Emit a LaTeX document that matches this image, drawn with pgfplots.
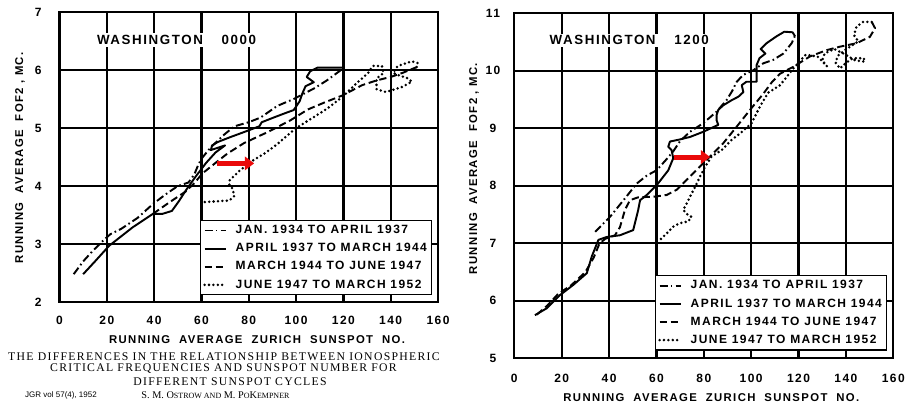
\documentclass[border=0pt]{standalone}
\usepackage{pgfplots}
\pgfplotsset{compat=1.18}
\usepackage{fontspec}
\usetikzlibrary{arrows.meta}
\setmainfont{Liberation Serif}
\newfontfamily\lett{Liberation Sans}[LetterSpace=12]
\newfontfamily\capf{Liberation Serif}[LetterSpace=11]
\newfontfamily\jgr{Liberation Sans}
\definecolor{arrowred}{RGB}{234,10,10}

\newcommand{\lab}{\lett\bfseries\fontsize{8.5}{9}\selectfont}

\pgfplotsset{
  fofpanel/.style={
    scale only axis,
    xmin=0, xmax=160, xtick={0,20,...,160},
    grid=major,
    major grid style={black, line width=1.7pt},
    axis line style={black, line width=1.7pt, line cap=rect},
    major tick length=0pt,
    tick label style={font=\lett\bfseries\fontsize{9}{10}\selectfont},
    /pgf/number format/assume math mode=true,
    yticklabel style={anchor=center, xshift=-16pt},
    clip=false,
    legend cell align=left,
    legend style={anchor=north west, draw=black, line width=0.9pt, fill=white,
      font=\lett\bfseries\fontsize{9}{10}\selectfont,
      inner xsep=2pt, inner ysep=2.3pt, row sep=3.2pt,
      nodes={inner sep=1.3pt},
      /tikz/every odd column/.append style={column sep=5pt}},
    legend image code/.code={\draw[##1] (0pt,0pt) -- (16pt,0pt);},
  },
  dashdot/.style={black, line width=1.45pt, line join=round,
    dash pattern=on 6pt off 2.4pt on 1.2pt off 2.4pt},
  solidline/.style={black, line width=1.45pt, line join=round},
  dashline/.style={black, line width=1.45pt, line join=round,
    dash pattern=on 5.5pt off 2.8pt},
  dotline/.style={black, line width=2.1pt, line cap=round,
    dash pattern=on 0pt off 3.3pt},
  shift/.style={arrowred, line width=3.8pt,
    -{Triangle[length=7pt,width=10pt]}},
}

\begin{document}
\begin{tikzpicture}
\path (0,0) rectangle (684.75pt,-304.5pt);

% ---------------- Washington 0000 ----------------
\begin{axis}[fofpanel,
  at={(44.625pt,-226.5pt)}, anchor=south west,
  width=283.875pt, height=217.5pt,
  ymin=2, ymax=7, ytick={2,...,7},
  xticklabel style={anchor=center, yshift=-13.5pt},
  legend style={at={(0.371,0.283)}},
]
\addplot[dashdot] coordinates {
 (6,2.48) (10,2.70) (14,2.88) (18.5,3.06) (21.5,3.17) (26,3.26) (33,3.45)
 (39.5,3.69) (45,3.86) (50,4.0) (54.5,4.06) (57,4.2) (58.5,4.35) (60,4.47)
 (64,4.67) (70,4.90) (74,5.03) (80,5.1) (85,5.18) (92,5.38) (99,5.5)
 (107.5,5.68) (113,5.82) (119,6.0)};
\addplot[solidline] coordinates {
 (120,6.04) (109,6.04) (106,5.98) (104.5,5.88) (107.5,5.79) (104,5.72)
 (102.7,5.6) (101.5,5.46) (99,5.31) (95,5.25) (90.5,5.18) (85.5,5.1)
 (84.5,5.03) (78,4.93) (72,4.84) (67,4.76) (64.5,4.70) (64,4.62) (67,4.66)
 (70,4.70) (66,4.58) (62,4.40) (57.5,4.16) (53.5,3.93) (50.5,3.74)
 (47.5,3.57) (43.5,3.52) (39.5,3.52) (31,3.29) (21,2.97) (15,2.70) (10,2.48)};
\addplot[dashline] coordinates {
 (39.5,3.52) (46.5,3.72) (53.5,3.91) (57,4.05) (60.5,4.22) (66,4.40)
 (71,4.56) (78,4.74) (88,4.93) (97.5,5.13) (105,5.32) (112,5.44)
 (119.5,5.56) (128,5.74) (134,5.82) (140,5.88) (145,5.95) (151,6.05)};
\addplot[dotline] coordinates {
 (151,6.05) (151.4,6.12) (149,6.15) (143,6.07) (141,5.95) (144,5.9)
 (147,5.86) (149,5.80) (145,5.71) (138,5.62) (134,5.67) (134,5.85)
 (137,5.95) (136.3,6.07) (132.5,6.07) (130.5,5.95) (125,5.75) (120,5.55)
 (113,5.33) (106,5.15) (100,5.0) (92,4.72) (87,4.57) (81,4.42) (76,4.26)
 (72,4.10) (71.8,4.02) (73.2,3.95) (73.9,3.83) (71.8,3.75) (60,3.72)};
\addplot[shift, forget plot] coordinates {(66.7,4.39) (82.3,4.39)};
\legend{JAN.\ 1934 TO APRIL 1937, APRIL 1937 TO MARCH 1944,
        MARCH 1944 TO JUNE 1947, JUNE 1947 TO MARCH 1952}
\node[fill=white, inner sep=1.5pt, font=\lett\bfseries\fontsize{10}{11}\selectfont]
  at (axis cs:49.5,6.52) {WASHINGTON\hspace{14pt}0000};
\node[rotate=90, font=\lab] at (rel axis cs:-0.1044,0.497)
  {RUNNING\ \ AVERAGE\ \ FOF2 ,\ MC.};
\node[font=\lab] at (rel axis cs:0.522,-0.131)
  {RUNNING\ \ AVERAGE\ \ ZURICH\ \ SUNSPOT\ \ NO.};
\end{axis}

% ---------------- Washington 1200 ----------------
\begin{axis}[fofpanel,
  at={(385.725pt,-268.725pt)}, anchor=south west,
  width=284.25pt, height=258.75pt,
  ymin=5, ymax=11, ytick={5,...,11},
  xticklabel style={anchor=center, yshift=-15pt},
  legend style={at={(0.371,0.241)}},
]
\addplot[dashdot] coordinates {
 (34.1,7.20) (40.4,7.46) (46.7,7.78) (51.7,8.04) (56,8.18) (60.1,8.27)
 (64,8.45) (67.1,8.6) (70,8.78) (74.2,8.94) (79.8,9.09) (85.4,9.29)
 (89.6,9.49) (92,9.65) (93.9,9.81) (96.7,9.93) (100.9,10.01) (105.1,10.13)
 (109.3,10.19) (113.6,10.30) (117.1,10.48) (118.5,10.61)};
\addplot[solidline] coordinates {
 (118.5,10.6) (117.5,10.67) (114,10.68) (110.7,10.60) (106.5,10.48)
 (104,10.38) (106,10.30) (103.5,10.22) (102.3,10.10) (102.3,9.81) (98,9.81)
 (96,9.75) (96.7,9.63) (94.6,9.55) (91.8,9.49) (88.2,9.40) (86.1,9.32)
 (85.4,9.23) (85.4,9.14) (86.1,9.06) (79.8,8.94) (74.2,8.85) (69.2,8.80)
 (65.7,8.77) (65,8.68) (66.4,8.62) (67.1,8.48) (65,8.27) (60.1,8.01)
 (55.9,7.84) (53.1,7.75) (52.3,7.58) (50.2,7.23) (44.6,7.14) (39,7.11)
 (35.5,7.06) (32.7,6.77) (30.6,6.48) (25,6.28) (19.3,6.10) (13.7,5.87)
 (8.7,5.75)};
\addplot[dashline] coordinates {
 (9.5,5.76) (14,5.92) (18.5,6.12) (24,6.27) (30,6.5) (33.5,6.75) (36,7.0)
 (38.5,7.08) (42.5,7.14) (44.6,7.28) (46.7,7.58) (48.8,7.75) (52.3,7.80)
 (58.7,7.81) (64.3,7.84) (68.5,7.93) (72.7,8.10) (77,8.28) (82.6,8.51)
 (88.2,8.74) (93.9,9.03) (99.5,9.32) (105.1,9.60) (108.7,9.80)
 (112.2,9.95) (117.8,10.07) (124.8,10.25) (131.9,10.36) (137.5,10.42)
 (144.5,10.48) (150.1,10.59) (152.3,10.74) (150.9,10.85)};
\addplot[dotline] coordinates {
 (150.9,10.85) (147.3,10.85) (144.5,10.77) (143.4,10.62) (145.2,10.51)
 (141,10.40) (137,10.28) (135.5,10.15) (137.5,10.04) (140,10.14)
 (143,10.22) (147.5,10.22) (148,10.16) (144,10.18) (139,10.30) (135,10.38)
 (131,10.30) (130,10.18) (132,10.08) (128,10.25) (123,10.28) (118,10.05)
 (112.2,9.75) (107.2,9.62) (103.7,9.38) (100.2,9.09) (95.3,8.91)
 (91.8,8.80) (87.5,8.62) (83.3,8.51) (80.5,8.33) (78.4,8.16) (76.3,7.98)
 (74.2,7.81) (72.1,7.64) (71.3,7.58) (73.4,7.49) (74.8,7.46) (73.4,7.38)
 (69.9,7.35) (67.1,7.29) (65.7,7.23) (64.3,7.17) (61.5,7.06)};
\addplot[shift, forget plot] coordinates {(67.5,8.5) (82.7,8.5)};
\legend{JAN.\ 1934 TO APRIL 1937, APRIL 1937 TO MARCH 1944,
        MARCH 1944 TO JUNE 1947, JUNE 1947 TO MARCH 1952}
\node[fill=white, inner sep=1.5pt, font=\lett\bfseries\fontsize{10}{11}\selectfont]
  at (axis cs:48.5,10.53) {WASHINGTON\hspace{14pt}1200};
\node[rotate=90, font=\lab] at (rel axis cs:-0.106,0.55)
  {RUNNING\ \ AVERAGE\ \ FOF2 ,\ MC.};
\node[font=\lab] at (rel axis cs:0.52,-0.115)
  {RUNNING\ \ AVERAGE\ \ ZURICH\ \ SUNSPOT\ \ NO.};
\end{axis}

% ---------------- caption ----------------
\node[font=\capf\fontsize{8.8}{9}\selectfont, inner sep=0pt] at (168pt,-267.5pt)
  {THE DIFFERENCES IN THE RELATIONSHIP BETWEEN IONOSPHERIC};
\node[font=\capf\fontsize{8.8}{9}\selectfont, inner sep=0pt] at (167.6pt,-276.75pt)
  {CRITICAL FREQUENCIES AND SUNSPOT NUMBER FOR};
\node[font=\capf\fontsize{8.8}{9}\selectfont, inner sep=0pt] at (172.5pt,-286.3pt)
  {DIFFERENT SUNSPOT CYCLES};
\node[font=\jgr\fontsize{6}{6.5}\selectfont, inner sep=0pt] at (45.75pt,-296.25pt)
  {JGR vol 57(4), 1952};
\node[font=\fontsize{7.7}{8}\selectfont, inner sep=0pt] at (161.6pt,-296.25pt)
  {S. M. O{\fontsize{6}{6}\selectfont STROW AND} M. P{\fontsize{6}{6}\selectfont O}K{\fontsize{6}{6}\selectfont EMPNER}};
\end{tikzpicture}
\end{document}
